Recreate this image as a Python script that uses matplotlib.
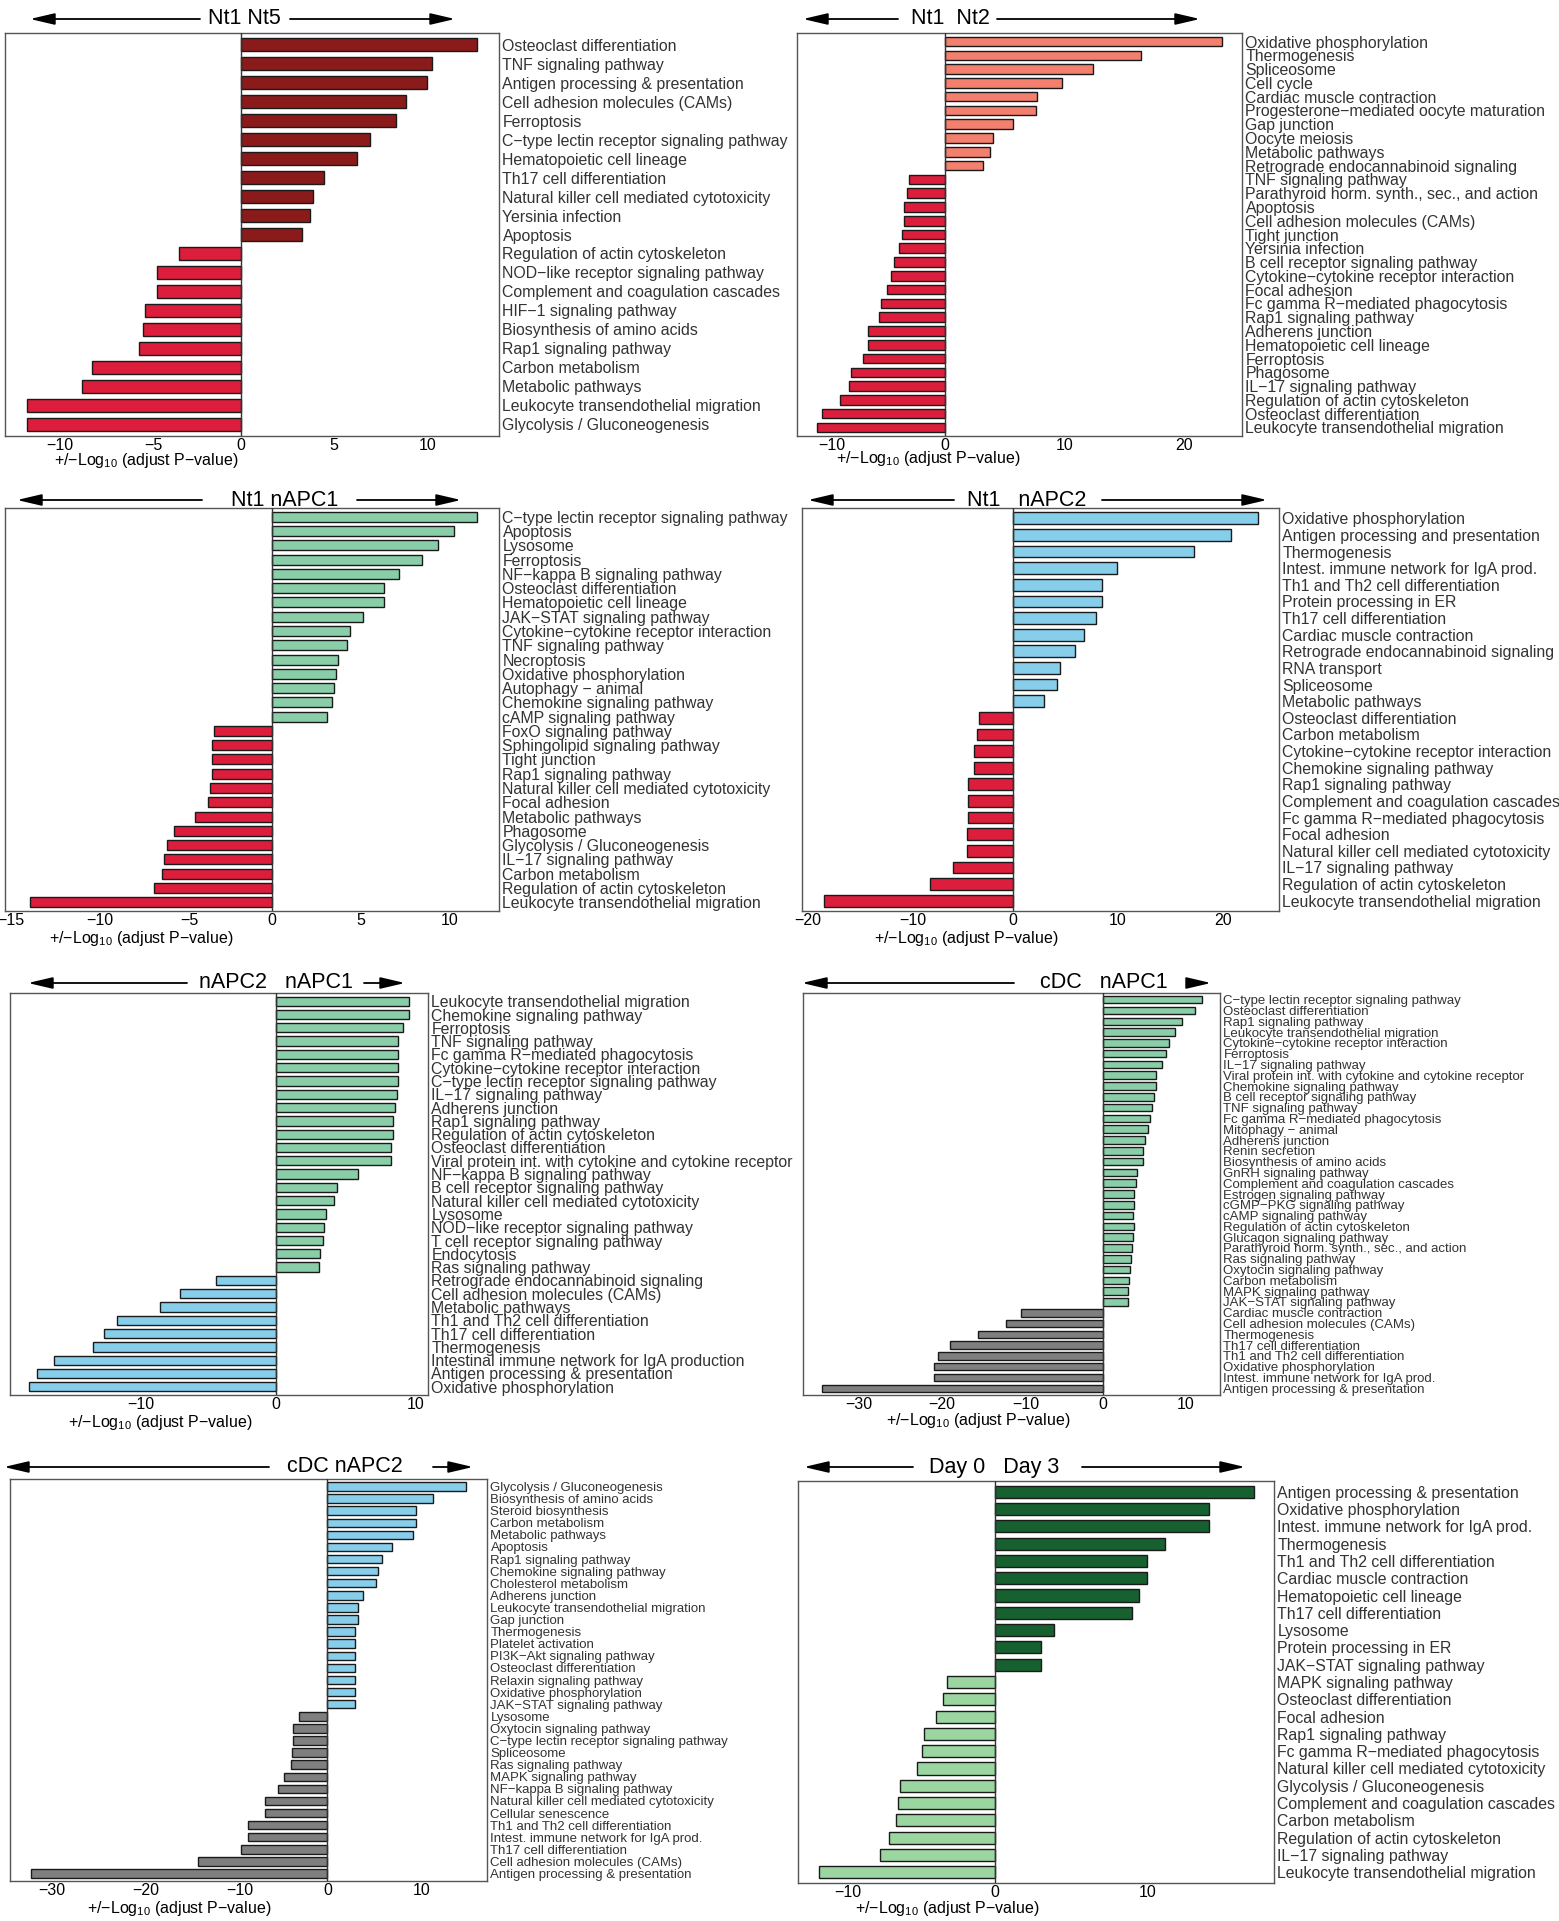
import matplotlib.pyplot as plt
import matplotlib.transforms as mtransforms
from matplotlib.patches import FancyArrowPatch

plt.rcParams['font.family'] = ['Liberation Sans', 'DejaVu Sans']
plt.rcParams['mathtext.fontset'] = 'custom'
plt.rcParams['mathtext.rm'] = 'Liberation Sans'
plt.rcParams['mathtext.default'] = 'regular'

W, H = 1559, 1921

DARKRED = '#8B1A1A'
CRIMSON = '#DC1E3C'
SALMON = '#F37F6E'
MINT = '#8ACEA9'
SKY = '#87CEEB'
GREY = '#7F7F7F'
DKGREEN = '#17602F'
LTGREEN = '#9BD6A1'

# Nt1 vs Nt5
nt5_terms = ['Osteoclast differentiation', 'TNF signaling pathway', 'Antigen processing & presentation',
             'Cell adhesion molecules (CAMs)', 'Ferroptosis', 'C−type lectin receptor signaling pathway',
             'Hematopoietic cell lineage', 'Th17 cell differentiation', 'Natural killer cell mediated cytotoxicity',
             'Yersinia infection', 'Apoptosis', 'Regulation of actin cytoskeleton',
             'NOD−like receptor signaling pathway', 'Complement and coagulation cascades', 'HIF−1 signaling pathway',
             'Biosynthesis of amino acids', 'Rap1 signaling pathway', 'Carbon metabolism', 'Metabolic pathways',
             'Leukocyte transendothelial migration', 'Glycolysis / Gluconeogenesis']
nt5_vals = [12.66, 10.23, 10.0, 8.88, 8.34, 6.95, 6.21, 4.45, 3.88, 3.73, 3.30,
            -3.30, -4.48, -4.48, -5.13, -5.23, -5.45, -7.95, -8.5, -11.45, -11.45]

# Nt1 vs Nt2
nt2_terms = ['Oxidative phosphorylation', 'Thermogenesis', 'Spliceosome', 'Cell cycle',
             'Cardiac muscle contraction', 'Progesterone−mediated oocyte maturation', 'Gap junction',
             'Oocyte meiosis', 'Metabolic pathways', 'Retrograde endocannabinoid signaling',
             'TNF signaling pathway', 'Parathyroid horm. synth., sec., and action', 'Apoptosis',
             'Cell adhesion molecules (CAMs)', 'Tight junction', 'Yersinia infection',
             'B cell receptor signaling pathway', 'Cytokine−cytokine receptor interaction', 'Focal adhesion',
             'Fc gamma R−mediated phagocytosis', 'Rap1 signaling pathway', 'Adherens junction',
             'Hematopoietic cell lineage', 'Ferroptosis', 'Phagosome', 'IL−17 signaling pathway',
             'Regulation of actin cytoskeleton', 'Osteoclast differentiation',
             'Leukocyte transendothelial migration']
nt2_vals = [23.15, 16.40, 12.38, 9.79, 7.73, 7.62, 5.69, 4.02, 3.77, 3.21,
            -2.98, -3.18, -3.40, -3.43, -3.60, -3.85, -4.27, -4.52, -4.85, -5.36,
            -5.55, -6.44, -6.44, -6.89, -7.87, -8.06, -8.76, -10.29, -10.68]

# Nt1 vs nAPC1
napc1_terms = ['C−type lectin receptor signaling pathway', 'Apoptosis', 'Lysosome', 'Ferroptosis',
               'NF−kappa B signaling pathway', 'Osteoclast differentiation', 'Hematopoietic cell lineage',
               'JAK−STAT signaling pathway', 'Cytokine−cytokine receptor interaction', 'TNF signaling pathway',
               'Necroptosis', 'Oxidative phosphorylation', 'Autophagy − animal', 'Chemokine signaling pathway',
               'cAMP signaling pathway', 'FoxO signaling pathway', 'Sphingolipid signaling pathway',
               'Tight junction', 'Rap1 signaling pathway', 'Natural killer cell mediated cytotoxicity',
               'Focal adhesion', 'Metabolic pathways', 'Phagosome', 'Glycolysis / Gluconeogenesis',
               'IL−17 signaling pathway', 'Carbon metabolism', 'Regulation of actin cytoskeleton',
               'Leukocyte transendothelial migration']
napc1_vals = [11.53, 10.24, 9.31, 8.45, 7.15, 6.28, 6.28, 5.12, 4.39, 4.21, 3.72, 3.61, 3.50, 3.37, 3.09,
              -3.24, -3.35, -3.39, -3.39, -3.48, -3.61, -4.32, -5.49, -5.87, -6.09, -6.20, -6.65, -13.61]

# Nt1 vs nAPC2
napc2_terms = ['Oxidative phosphorylation', 'Antigen processing and presentation', 'Thermogenesis',
               'Intest. immune network for IgA prod.', 'Th1 and Th2 cell differentiation',
               'Protein processing in ER', 'Th17 cell differentiation', 'Cardiac muscle contraction',
               'Retrograde endocannabinoid signaling', 'RNA transport', 'Spliceosome', 'Metabolic pathways',
               'Osteoclast differentiation', 'Carbon metabolism', 'Cytokine−cytokine receptor interaction',
               'Chemokine signaling pathway', 'Rap1 signaling pathway', 'Complement and coagulation cascades',
               'Fc gamma R−mediated phagocytosis', 'Focal adhesion',
               'Natural killer cell mediated cytotoxicity', 'IL−17 signaling pathway',
               'Regulation of actin cytoskeleton', 'Leukocyte transendothelial migration']
napc2_vals = [23.32, 20.76, 17.22, 9.94, 8.51, 8.51, 7.94, 6.80, 5.95, 4.53, 4.18, 3.01,
              -3.23, -3.39, -3.64, -3.64, -4.21, -4.21, -4.21, -4.30, -4.37, -5.66, -7.88, -17.88]

# nAPC2 vs nAPC1
n2n1_terms = ['Leukocyte transendothelial migration', 'Chemokine signaling pathway', 'Ferroptosis',
              'TNF signaling pathway', 'Fc gamma R−mediated phagocytosis',
              'Cytokine−cytokine receptor interaction', 'C−type lectin receptor signaling pathway',
              'IL−17 signaling pathway', 'Adherens junction', 'Rap1 signaling pathway',
              'Regulation of actin cytoskeleton', 'Osteoclast differentiation',
              'Viral protein int. with cytokine and cytokine receptor', 'NF−kappa B signaling pathway',
              'B cell receptor signaling pathway', 'Natural killer cell mediated cytotoxicity', 'Lysosome',
              'NOD−like receptor signaling pathway', 'T cell receptor signaling pathway', 'Endocytosis',
              'Ras signaling pathway', 'Retrograde endocannabinoid signaling', 'Cell adhesion molecules (CAMs)',
              'Metabolic pathways', 'Th1 and Th2 cell differentiation', 'Th17 cell differentiation',
              'Thermogenesis', 'Intestinal immune network for IgA production',
              'Antigen processing & presentation', 'Oxidative phosphorylation']
n2n1_vals = [9.50, 9.50, 9.10, 8.74, 8.74, 8.74, 8.74, 8.67, 8.53, 8.38, 8.34, 8.22, 8.22, 5.89,
             4.39, 4.13, 3.59, 3.47, 3.40, 3.18, 3.11,
             -4.23, -6.82, -8.27, -11.28, -12.26, -12.99, -15.77, -17.01, -17.55]

# cDC vs nAPC1
cdc1_terms = ['C−type lectin receptor signaling pathway', 'Osteoclast differentiation', 'Rap1 signaling pathway',
              'Leukocyte transendothelial migration', 'Cytokine−cytokine receptor interaction', 'Ferroptosis',
              'IL−17 signaling pathway', 'Viral protein int. with cytokine and cytokine receptor',
              'Chemokine signaling pathway', 'B cell receptor signaling pathway', 'TNF signaling pathway',
              'Fc gamma R−mediated phagocytosis', 'Mitophagy − animal', 'Adherens junction', 'Renin secretion',
              'Biosynthesis of amino acids', 'GnRH signaling pathway', 'Complement and coagulation cascades',
              'Estrogen signaling pathway', 'cGMP−PKG signaling pathway', 'cAMP signaling pathway',
              'Regulation of actin cytoskeleton', 'Glucagon signaling pathway',
              'Parathyroid horm. synth., sec., and action', 'Ras signaling pathway',
              'Oxytocin signaling pathway', 'Carbon metabolism', 'MAPK signaling pathway',
              'JAK−STAT signaling pathway', 'Cardiac muscle contraction', 'Cell adhesion molecules (CAMs)',
              'Thermogenesis', 'Th17 cell differentiation', 'Th1 and Th2 cell differentiation',
              'Oxidative phosphorylation', 'Intest. immune network for IgA prod.',
              'Antigen processing & presentation']
cdc1_vals = [11.88, 11.12, 9.48, 8.72, 7.96, 7.64, 7.08, 6.44, 6.44, 6.16, 5.96, 5.72, 5.48, 5.12, 4.88,
             4.80, 4.16, 4.00, 3.76, 3.72, 3.68, 3.72, 3.68, 3.56, 3.40, 3.32, 3.20, 3.08, 3.00,
             -9.80, -11.60, -15.04, -18.40, -19.84, -20.24, -20.24, -33.76]

# cDC vs nAPC2
cdc2_terms = ['Glycolysis / Gluconeogenesis', 'Biosynthesis of amino acids', 'Steroid biosynthesis',
              'Carbon metabolism', 'Metabolic pathways', 'Apoptosis', 'Rap1 signaling pathway',
              'Chemokine signaling pathway', 'Cholesterol metabolism', 'Adherens junction',
              'Leukocyte transendothelial migration', 'Gap junction', 'Thermogenesis', 'Platelet activation',
              'PI3K−Akt signaling pathway', 'Osteoclast differentiation', 'Relaxin signaling pathway',
              'Oxidative phosphorylation', 'JAK−STAT signaling pathway', 'Lysosome',
              'Oxytocin signaling pathway', 'C−type lectin receptor signaling pathway', 'Spliceosome',
              'Ras signaling pathway', 'MAPK signaling pathway', 'NF−kappa B signaling pathway',
              'Natural killer cell mediated cytotoxicity', 'Cellular senescence',
              'Th1 and Th2 cell differentiation', 'Intest. immune network for IgA prod.',
              'Th17 cell differentiation', 'Cell adhesion molecules (CAMs)', 'Antigen processing & presentation']
cdc2_vals = [14.78, 11.22, 9.39, 9.39, 9.13, 6.87, 5.83, 5.39, 5.22, 3.83, 3.22, 3.22,
             2.96, 2.96, 2.96, 2.96, 2.96, 2.96, 2.96,
             -3.04, -3.65, -3.65, -3.74, -3.83, -4.61, -5.22, -6.61, -6.61, -8.43, -8.43, -9.22,
             -13.74, -31.57]

# Day 0 vs Day 3
day_terms = ['Antigen processing & presentation', 'Oxidative phosphorylation',
             'Intest. immune network for IgA prod.', 'Thermogenesis', 'Th1 and Th2 cell differentiation',
             'Cardiac muscle contraction', 'Hematopoietic cell lineage', 'Th17 cell differentiation',
             'Lysosome', 'Protein processing in ER', 'JAK−STAT signaling pathway', 'MAPK signaling pathway',
             'Osteoclast differentiation', 'Focal adhesion', 'Rap1 signaling pathway',
             'Fc gamma R−mediated phagocytosis', 'Natural killer cell mediated cytotoxicity',
             'Glycolysis / Gluconeogenesis', 'Complement and coagulation cascades', 'Carbon metabolism',
             'Regulation of actin cytoskeleton', 'IL−17 signaling pathway',
             'Leukocyte transendothelial migration']
day_vals = [16.92, 13.98, 13.98, 11.10, 9.98, 9.98, 9.45, 8.96, 3.84, 2.99, 2.99,
            -3.09, -3.36, -3.84, -4.64, -4.75, -5.07, -6.19, -6.30, -6.46, -6.88, -7.47, -11.47]

fig = plt.figure(figsize=(W / 100, H / 100), dpi=100)

# negative tick labels sit a few pixels right of their tick
neg_shift = mtransforms.ScaledTranslation(6 / 100, 0, fig.dpi_scale_trans)


def px_rect(x0, y0, x1, y1):
    return [x0 / W, 1 - y1 / H, (x1 - x0) / W, (y1 - y0) / H]


def panel(box, terms, vals, pos_col, neg_col, xlim, ticks, lab_size, xlab_x, xlab_y):
    ax = fig.add_axes(px_rect(*box))
    n = len(vals)
    ypos = list(range(n))
    cols = [pos_col if v > 0 else neg_col for v in vals]
    ax.barh(ypos, vals, height=0.7, color=cols, edgecolor='#1a1a1a', linewidth=1.0, zorder=2)
    ax.axvline(0, color='#333333', lw=1.0, zorder=3)
    ax.set_xlim(*xlim)
    ax.set_ylim(n - 1 + 0.62, -0.62)
    ax.set_xticks(ticks)
    ax.tick_params(axis='x', length=0, pad=1.5, labelsize=11.5)
    for t, lab in zip(ticks, ax.get_xticklabels()):
        if t < 0:
            lab.set_transform(lab.get_transform() + neg_shift)
    ax.yaxis.tick_right()
    ax.set_yticks(ypos, labels=terms)
    ax.tick_params(axis='y', length=0, pad=2.5, labelsize=lab_size, labelcolor='#333333')
    for s in ax.spines.values():
        s.set_color('#555555')
        s.set_linewidth(1.0)
    fig.text(xlab_x / W, 1 - xlab_y / H, '+/−Log$_{10}$ (adjust P−value)',
             ha='center', va='center', fontsize=11.5)
    return ax


def header(text, y, tip_l, in_l, cx, in_r, tip_r):
    yy = 1 - y / H
    fig.text(cx / W, yy, text, ha='center', va='center', fontsize=15.5)
    style = '-|>,head_length=1.5,head_width=0.35'
    for a, b in [(in_l, tip_l), (in_r, tip_r)]:
        fig.add_artist(FancyArrowPatch((a / W, yy), (b / W, yy), transform=fig.transFigure,
                                       arrowstyle=style, mutation_scale=10, color='black',
                                       lw=1.3, shrinkA=0, shrinkB=0))


panel((5, 33, 499, 436), nt5_terms, nt5_vals, DARKRED, CRIMSON, (-12.64, 13.84),
      [-10, -5, 0, 5, 10], 11.4, 146, 460)
header('Nt1 Nt5', 19, 30, 200, 244, 290, 455)

panel((797, 33, 1242, 436), nt2_terms, nt2_vals, SALMON, CRIMSON, (-12.38, 24.83),
      [-10, 0, 10, 20], 11.4, 928, 459)
header('Nt1  Nt2', 19, 803, 898, 950, 997, 1200)

panel((5, 508, 499, 911), napc1_terms, napc1_vals, MINT, CRIMSON, (-14.86, 12.76),
      [-15, -10, -5, 0, 5, 10], 11.4, 141, 939)
header('Nt1 nAPC1', 500, 17, 202, 285, 357, 461)

panel((802, 508, 1279, 911), napc2_terms, napc2_vals, SKY, CRIMSON, (-19.97, 25.3),
      [-20, -10, 0, 10, 20], 11.4, 966, 938)
header('Nt1   nAPC2', 500, 808, 954, 1027, 1102, 1267)

panel((10, 993, 428, 1395), n2n1_terms, n2n1_vals, MINT, SKY, (-18.93, 10.86),
      [-10, 0, 10], 11.4, 160, 1423)
header('nAPC2   nAPC1', 983, 28, 187, 276, 364, 405)

panel((803, 993, 1220, 1395), cdc1_terms, cdc1_vals, MINT, GREY, (-36.0, 14.08),
      [-30, -20, -10, 0, 10], 9.5, 978, 1421)
header('cDC   nAPC1', 983, 802, 1014, 1104, 1190, 1211)

panel((10, 1479, 487, 1881), cdc2_terms, cdc2_vals, SKY, GREY, (-33.8, 17.0),
      [-30, -20, -10, 0, 10], 9.5, 179, 1909)
header('cDC nAPC2', 1467, 4, 269, 345, 433, 473)

panel((798, 1481, 1274, 1883), day_terms, day_vals, DKGREEN, LTGREEN, (-12.86, 18.25),
      [-10, 0, 10], 11.4, 947, 1908)
header('Day 0   Day 3', 1467, 804, 913, 994, 1082, 1245)

fig.savefig('out.png', dpi=100)
